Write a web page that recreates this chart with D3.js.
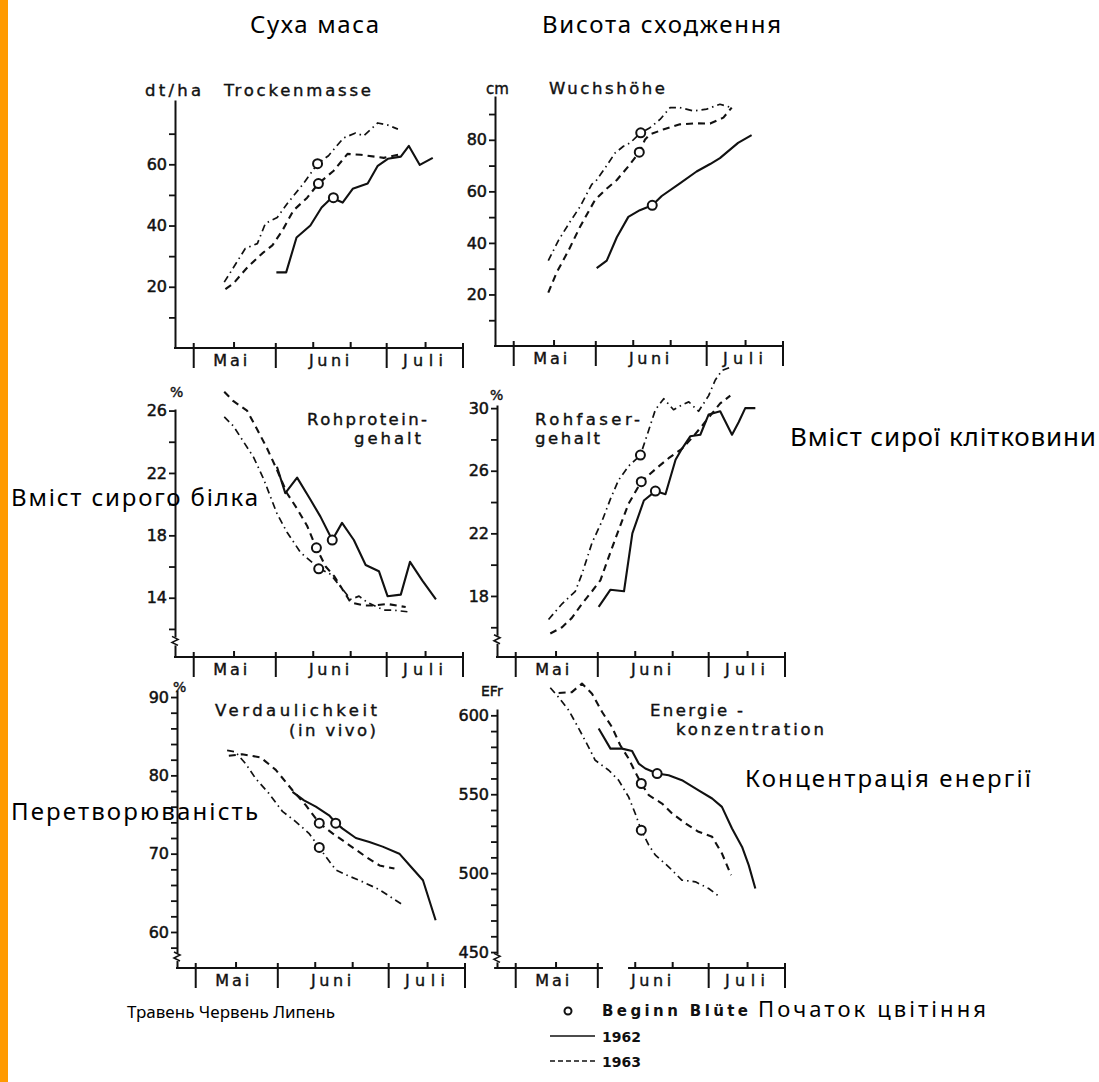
<!DOCTYPE html>
<html><head><meta charset="utf-8">
<script src="https://cdn.jsdelivr.net/npm/d3@7"></script>
<style>body{margin:0;background:#fff}svg{display:block}</style>
</head><body>
<script>
// ---------- DATA (x = day index on the season axis, 0..100) ----------
const monthLabels = ["Mai", "Juni", "Juli"];
const monthLabelPos = [19.2, 53.5, 86.1];
const majorTicks = [6.5, 35, 73.5, 100];
const minorTicks = [20.5, 48, 61, 87];
const seriesNames = ["1962", "1963", "1964"];

// Trockenmasse (dt/ha)
const tm1962 = [[35.2,24.7],[38.6,24.7],[42.2,36.1],[47.0,40.0],[50.9,45.9],[54.4,49.1],[58.2,47.5],[61.7,52.0],[66.9,53.7],[70.4,59.5],[73.9,61.8],[78.4,62.5],[81.2,66.0],[85.0,59.8],[89.5,62.1]];
const tm1963 = [[17.5,19.2],[20.3,21.1],[25.1,26.3],[30.3,30.9],[33.8,33.5],[37.3,38.4],[41.1,44.9],[45.9,49.1],[49.8,53.7],[55.1,57.9],[59.9,63.4],[64.5,63.1],[72.5,62.1],[79.1,63.5]];
const tm1964 = [[17.1,21.5],[20.3,26.3],[24.4,32.5],[28.6,34.1],[31.4,40.7],[35.5,42.6],[39.0,47.2],[44.6,53.7],[49.5,60.2],[53.3,62.8],[58.5,68.6],[62.7,70.2],[65.5,69.3],[70.4,73.5],[73.9,72.8],[77.4,71.5]];
const tmBloom = [[55.0,49.1],[49.8,53.7],[49.5,60.2]];

// Wuchshöhe (cm)
const wh1962 = [[35.3,30.2],[38.8,33.1],[42.3,42.2],[46.3,50.1],[50.3,52.7],[54.6,54.6],[57.9,58.2],[64.2,63.1],[70.0,67.7],[74.7,70.6],[78.1,72.9],[84.4,78.8],[89.1,81.8]];
const wh1963 = [[18.5,20.7],[21.4,28.5],[25.5,37.0],[29.5,46.2],[34.7,56.6],[38.2,60.5],[42.3,64.4],[46.3,69.7],[50.1,75.2],[52.1,80.1],[53.8,82.1],[58.4,84.0],[64.2,86.0],[70.0,86.4],[74.7,86.3],[79.3,88.6],[82.2,92.5]];
const wh1964 = [[18.5,33.1],[22.0,40.9],[26.0,48.1],[29.5,54.0],[33.6,62.7],[35.3,64.4],[38.2,69.0],[41.7,74.9],[44.6,77.5],[46.9,78.8],[50.6,82.7],[53.8,84.7],[57.3,87.9],[60.8,92.5],[64.2,92.5],[68.9,91.2],[73.5,91.9],[78.1,93.8],[82.2,92.5]];
const whBloom = [[54.6,54.6],[50.1,75.2],[50.6,82.7]];

// Rohproteingehalt (%)
const rp1962 = [[35.4,22.4],[38.3,20.7],[42.4,21.7],[47.0,20.3],[50.5,19.2],[54.6,17.7],[58.0,18.8],[62.1,17.7],[66.2,16.1],[70.8,15.7],[73.8,14.1],[78.4,14.2],[81.6,16.3],[85.9,15.1],[90.6,13.9]];
const rp1963 = [[17.1,27.2],[20.3,26.6],[25.0,26.0],[28.5,24.8],[31.9,23.6],[35.4,22.2],[38.9,20.7],[42.4,19.7],[45.9,18.6],[48.8,17.3],[52.3,16.0],[55.2,15.4],[61.0,13.7],[65.6,13.5],[69.1,13.5],[73.7,13.6],[80.1,13.4]];
const rp1964 = [[17.1,25.6],[20.3,25.0],[23.8,24.0],[27.3,23.0],[30.8,21.6],[33.1,20.5],[35.4,19.4],[38.9,18.2],[43.6,16.9],[49.9,15.9],[54.0,15.5],[57.5,14.7],[61.0,13.9],[63.9,14.1],[66.8,13.7],[72.6,13.2],[76.1,13.2],[80.7,13.1]];
const rpBloom = [[54.6,17.7],[49.1,17.2],[49.9,15.85]];

// Rohfasergehalt (%)
const rf1962 = [[35.3,17.3],[39.4,18.4],[44.1,18.3],[47.0,22.0],[51.0,24.1],[55.0,24.7],[58.5,24.5],[62.0,26.7],[64.2,27.4],[67.1,28.2],[70.6,28.3],[73.5,29.6],[77.5,29.8],[81.6,28.3],[83.9,29.1],[86.2,30.0],[89.7,30.0]];
const rf1963 = [[18.5,15.6],[22.6,16.0],[26.0,16.6],[29.5,17.5],[33.0,18.3],[35.9,19.0],[39.4,20.8],[42.2,22.2],[45.7,23.9],[50.1,25.3],[55.0,26.1],[59.6,26.8],[64.2,27.4],[67.7,28.1],[70.0,28.6],[73.5,29.4],[77.5,30.3],[81.0,30.8]];
const rf1964 = [[17.9,16.5],[22.6,17.5],[27.2,18.3],[29.5,19.4],[33.0,21.4],[36.5,22.8],[39.4,24.2],[42.2,25.4],[45.7,26.3],[49.8,27.0],[52.7,28.6],[55.0,29.9],[57.9,30.6],[61.3,29.9],[64.2,30.2],[66.6,30.4],[70.0,29.8],[73.5,30.8],[75.8,31.8],[78.1,32.4],[80.9,32.6]];
const rfBloom = [[55.0,24.7],[50.1,25.3],[49.8,27.0]];

// Verdaulichkeit in vivo (%)
const vd1962 = [[40.1,77.9],[44.1,76.8],[48.2,76.0],[52.8,74.9],[55.2,73.9],[57.5,73.2],[62.1,72.0],[66.8,71.5],[71.4,70.9],[77.2,70.0],[81.3,68.3],[85.4,66.6],[89.8,61.5]];
const vd1963 = [[18.0,82.5],[22.6,82.7],[29.0,82.3],[34.3,80.7],[40.1,78.1],[44.7,76.2],[49.4,73.9],[54.0,72.6],[59.8,71.1],[65.6,69.6],[70.3,68.5],[75.5,68.1]];
const vd1964 = [[17.4,83.2],[20.3,83.0],[23.8,81.5],[27.3,79.6],[31.9,77.7],[36.6,75.4],[41.2,74.1],[45.8,72.6],[49.4,70.8],[51.7,69.6],[55.2,67.9],[58.7,67.3],[64.5,66.4],[70.3,65.4],[77.8,63.6]];
const vdBloom = [[55.1,73.9],[49.4,73.9],[49.4,70.8]];

// Energiekonzentration (EFr)
const ek1962 = [[35.3,591.6],[39.4,578.9],[43.4,578.9],[46.9,577.4],[49.2,569.4],[51.5,566.3],[55.6,563.1],[59.6,562.0],[64.2,558.9],[70.0,552.5],[74.7,547.3],[78.1,542.0],[81.6,528.3],[85.1,516.6],[87.4,505.1],[89.7,490.3]];
const ek1963 = [[21.4,614.1],[26.0,614.7],[29.5,620.1],[33.0,613.7],[36.5,602.1],[39.9,592.6],[42.8,581.0],[45.7,572.6],[48.0,564.1],[50.1,556.8],[52.7,549.4],[57.3,544.1],[60.8,537.8],[65.5,531.5],[70.0,526.2],[74.7,523.0],[78.1,512.5],[81.3,498.7]];
const ek1964 = [[18.5,617.5],[21.4,611.4],[24.9,603.2],[28.4,591.6],[31.8,579.9],[34.1,571.5],[38.8,565.2],[42.2,558.9],[45.7,548.3],[48.0,537.8],[50.1,527.2],[52.7,517.7],[55.0,511.4],[59.6,504.0],[64.2,495.6],[68.9,494.5],[73.5,490.3],[77.0,485.4]];
const ekBloom = [[55.6,563.1],[50.1,556.8],[50.1,527.2]];

// Y ticks / labels
const tmTicks = [10,20,30,40,50,60,70], tmLabels = [20,40,60];
const whTicks = [10,20,30,40,50,60,70,80,90], whLabels = [20,40,60,80];
const rpTicks = [12,14,16,18,20,22,24,26], rpLabels = [14,18,22,26];
const rfTicks = [16,18,20,22,24,26,28,30], rfLabels = [18,22,26,30];
const vdTicks = d3.range(58, 91, 2), vdLabels = [60,70,80,90];
const ekTicks = d3.range(450, 601, 10), ekLabels = [450,500,550,600];

// ---------- DRAWING ----------
const W = 1099, H = 1082;
const svg = d3.select("body").append("svg").attr("width", W).attr("height", H)
  .attr("font-family", "DejaVu Sans");
svg.append("rect").attr("width", W).attr("height", H).attr("fill", "#fff");
svg.append("rect").attr("x", 0).attr("y", 0).attr("width", 8).attr("height", H).attr("fill", "#FF9A00");

const lineStyle = {
  "1962": {w: 2.1, dash: null},
  "1963": {w: 2.1, dash: "7,5"},
  "1964": {w: 1.7, dash: "7,4,1.5,4"}
};

function txt(g, s, x, y, size, len, opts = {}) {
  const t = g.append("text").attr("x", x).attr("y", y).attr("font-size", size).text(s)
    .attr("fill", opts.fill || "#111");
  if (opts.family) t.attr("font-family", opts.family);
  if (opts.weight) t.attr("font-weight", opts.weight);
  if (opts.anchor) t.attr("text-anchor", opts.anchor);
  if (opts.bold) t.attr("stroke", "#111").attr("stroke-width", opts.bold);
  if (len) t.attr("textLength", len).attr("lengthAdjust", opts.adjust || "spacing");
  return t;
}

function panel(cfg) {
  const g = svg.append("g");
  const x = d3.scaleLinear().domain([0, 100]).range([cfg.x0, cfg.x0 + 288]);
  const y = d3.scaleLinear().domain(cfg.yDomain).range([cfg.yBottom, cfg.yTop]);

  // y axis
  const ya = g.append("g").attr("transform", `translate(${cfg.x0},0)`)
    .call(d3.axisLeft(y).tickValues(cfg.ticks).tickSize(6).tickSizeOuter(0)
      .tickFormat(v => cfg.labels.includes(v) ? String(v) : ""));
  ya.select(".domain").attr("stroke", "#111").attr("stroke-width", 2);
  ya.selectAll(".tick line").attr("stroke", "#111").attr("stroke-width", 1.8);
  ya.selectAll(".tick text").attr("font-size", 16).attr("font-family", "DejaVu Sans")
    .attr("fill", "#111").attr("stroke", "#111").attr("stroke-width", 0.5).attr("x", -8);

  // axis break
  if (cfg.breakAt !== undefined) {
    const by = y(cfg.breakAt);
    g.append("rect").attr("x", cfg.x0 - 3).attr("y", by - 4).attr("width", 6).attr("height", 8).attr("fill", "#fff");
    g.append("path").attr("d", `M${cfg.x0-3},${by-5} L${cfg.x0+3},${by-2} L${cfg.x0-3},${by+1} L${cfg.x0+3},${by+4}`)
      .attr("fill", "none").attr("stroke", "#111").attr("stroke-width", 1.6);
  }

  // x axis line (possibly segmented)
  const segs = cfg.segments || [[0, 100]];
  segs.forEach(s => g.append("line").attr("x1", x(s[0]) - (s[0] === 0 ? 1 : 0)).attr("x2", x(s[1]))
    .attr("y1", cfg.yBottom).attr("y2", cfg.yBottom).attr("stroke", "#111").attr("stroke-width", 2));
  majorTicks.forEach(t => g.append("line").attr("x1", x(t)).attr("x2", x(t))
    .attr("y1", cfg.yBottom - 5).attr("y2", cfg.yBottom + 20).attr("stroke", "#111").attr("stroke-width", 2));
  minorTicks.forEach(t => g.append("line").attr("x1", x(t)).attr("x2", x(t))
    .attr("y1", cfg.yBottom - 6).attr("y2", cfg.yBottom).attr("stroke", "#111").attr("stroke-width", 2));
  monthLabels.forEach((m, i) => txt(g, m, x(monthLabelPos[i]), cfg.yBottom + 18, 16,
    m === "Mai" ? 34 : 40, {anchor: "middle", bold: 0.4}));

  // series
  const line = d3.line().x(d => x(d[0])).y(d => y(d[1]));
  cfg.series.forEach((data, i) => {
    const st = lineStyle[seriesNames[i]];
    g.append("path").attr("d", line(data)).attr("fill", "none").attr("stroke", "#111")
      .attr("stroke-width", st.w).attr("stroke-dasharray", st.dash)
      .attr("stroke-linejoin", "round");
  });
  g.selectAll("circle.bloom").data(cfg.bloom).join("circle").attr("class", "bloom")
    .attr("cx", d => x(d[0])).attr("cy", d => y(d[1])).attr("r", 4.5)
    .attr("fill", "#fff").attr("stroke", "#111").attr("stroke-width", 2);

  // titles
  (cfg.titles || []).forEach(t => txt(g, t.s, t.x, t.y, t.size || 16.5, t.len, {anchor: t.anchor, bold: 0.4}));
  return g;
}

panel({x0: 175, yBottom: 348, yTop: 100, yDomain: [0, 81], ticks: tmTicks, labels: tmLabels,
  series: [tm1962, tm1963, tm1964], bloom: tmBloom,
  titles: [{s: "dt/ha", x: 145, y: 96, len: 56}, {s: "Trockenmasse", x: 224, y: 96, len: 147}]});
panel({x0: 495, yBottom: 346, yTop: 96, yDomain: [0, 97], ticks: whTicks, labels: whLabels,
  series: [wh1962, wh1963, wh1964], bloom: whBloom,
  titles: [{s: "cm", x: 486, y: 94, size: 15}, {s: "Wuchshöhe", x: 549, y: 94, len: 116}]});
panel({x0: 175, yBottom: 657, yTop: 409, yDomain: [10.2, 26.1], ticks: rpTicks, labels: rpLabels, breakAt: 11.2,
  series: [rp1962, rp1963, rp1964], bloom: rpBloom,
  titles: [{s: "%", x: 170, y: 397, size: 14}, {s: "Rohprotein-", x: 307, y: 425, len: 120}, {s: "gehalt", x: 354, y: 444, len: 67}]});
panel({x0: 497, yBottom: 657, yTop: 405, yDomain: [14.1, 30.2], ticks: rfTicks, labels: rfLabels, breakAt: 15.2,
  series: [rf1962, rf1963, rf1964], bloom: rfBloom,
  titles: [{s: "%", x: 490, y: 400, size: 14}, {s: "Rohfaser-", x: 535, y: 425, len: 105}, {s: "gehalt", x: 535, y: 444, len: 65}]});
panel({x0: 177, yBottom: 968, yTop: 690, yDomain: [55.4, 90.9], ticks: vdTicks, labels: vdLabels, breakAt: 56.8,
  series: [vd1962, vd1963, vd1964], bloom: vdBloom,
  titles: [{s: "%", x: 173, y: 692, size: 14}, {s: "Verdaulichkeit", x: 215, y: 716, len: 162}, {s: "(in vivo)", x: 289, y: 736, len: 87}]});
panel({x0: 497, yBottom: 968, yTop: 709, yDomain: [439.9, 604], ticks: ekTicks, labels: ekLabels, breakAt: 446,
  segments: [[-1, 36.8], [45.5, 100]],
  series: [ek1962, ek1963, ek1964], bloom: ekBloom,
  titles: [{s: "EFr", x: 481, y: 696, size: 14}, {s: "Energie -", x: 650, y: 716, len: 93}, {s: "konzentration", x: 676, y: 735, len: 148}]});

// legend
const lg = svg.append("g");
lg.append("circle").attr("cx", 568).attr("cy", 1011).attr("r", 3.5).attr("fill", "#fff").attr("stroke", "#111").attr("stroke-width", 2);
txt(lg, "Beginn Blüte", 602, 1016, 15, 146, {weight: "bold"});
lg.append("line").attr("x1", 550).attr("x2", 595).attr("y1", 1036).attr("y2", 1036).attr("stroke", "#111").attr("stroke-width", 1.5);
txt(lg, seriesNames[0], 602, 1042, 14, null, {weight: "bold"});
lg.append("line").attr("x1", 550).attr("x2", 595).attr("y1", 1061).attr("y2", 1061).attr("stroke", "#111").attr("stroke-width", 1.5).attr("stroke-dasharray", "5,3");
txt(lg, seriesNames[1], 602, 1067, 14, null, {weight: "bold"});

// Ukrainian annotations
const UKF = "Noto Sans";
const uk = svg.append("g").attr("font-family", UKF);
txt(uk, "Суха маса", 250, 33, 24, 129, {family: UKF, fill: "#000"});
txt(uk, "Висота сходження", 542, 33, 24, 239, {family: UKF, fill: "#000"});
txt(uk, "Вміст сирої клітковини", 790, 446, 26, 306, {family: UKF, fill: "#000"});
txt(uk, "Вміст сирого білка", 11, 506, 24, 247, {family: UKF, fill: "#000"});
txt(uk, "Перетворюваність", 11, 820, 24, 247, {family: UKF, fill: "#000"});
txt(uk, "Концентрація енергії", 745, 787, 24, 286, {family: UKF, fill: "#000"});
txt(uk, "Початок цвітіння", 758, 1017, 22, 228, {family: UKF, fill: "#000"});
txt(uk, "Травень Червень Липень", 127, 1018, 17, 208, {family: UKF, fill: "#000"});
</script>
</body></html>
